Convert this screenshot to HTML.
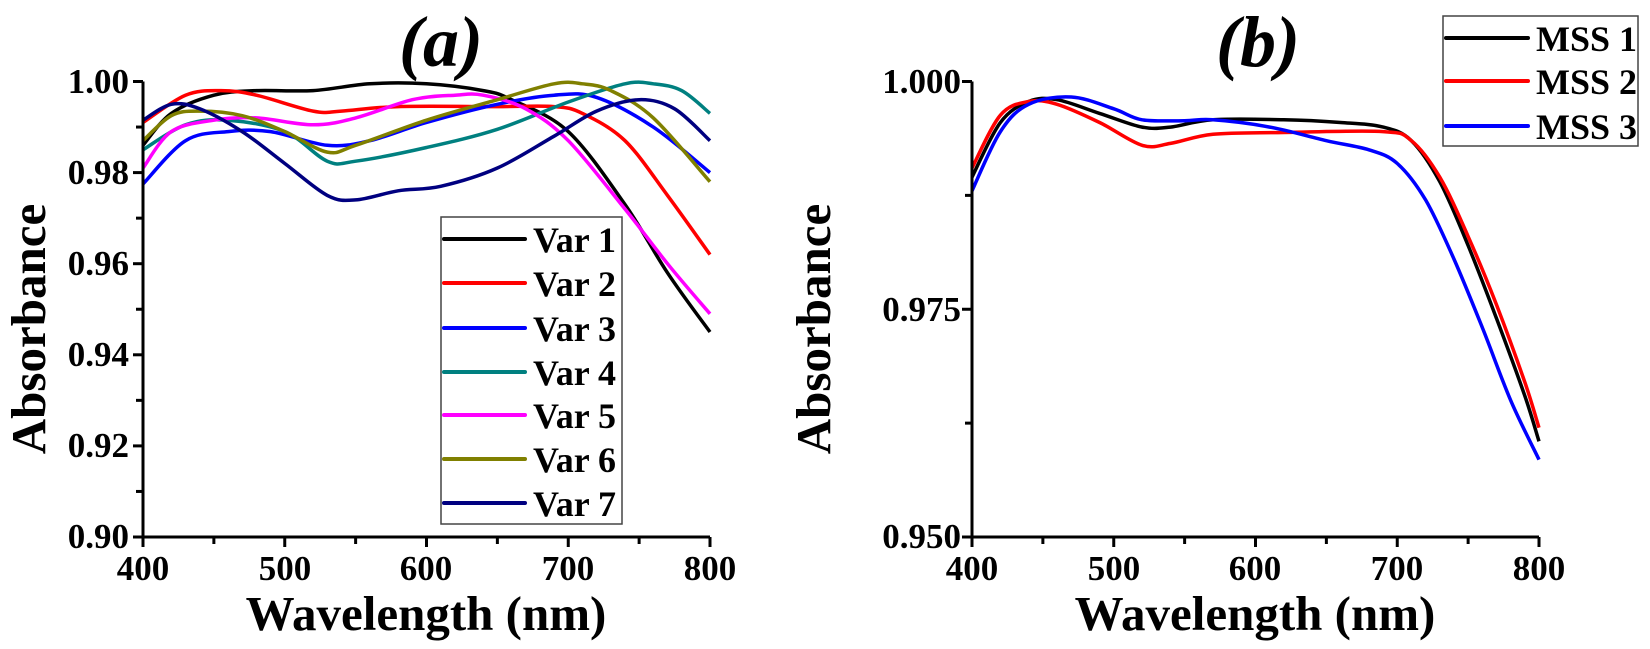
<!DOCTYPE html>
<html><head><meta charset="utf-8"><style>
html,body{margin:0;padding:0;background:#fff;}
svg{display:block;}
text{font-family:"Liberation Serif",serif;font-weight:bold;fill:#000;}
</style></head><body>
<svg id="s" width="1650" height="649" xmlns="http://www.w3.org/2000/svg">
<g id="g"></g>
<g stroke="#000" stroke-width="3" fill="none">
<path d="M143,81.5 V537 H710"/>
</g>
<g font-size="35" text-anchor="end">
<text x="129" y="93">1.00</text>
<text x="129" y="184">0.98</text>
<text x="129" y="275">0.96</text>
<text x="129" y="366">0.94</text>
<text x="129" y="457">0.92</text>
<text x="129" y="548">0.90</text>
</g>
<g font-size="35" text-anchor="middle">
<text x="143" y="580">400</text>
<text x="285" y="580">500</text>
<text x="426" y="580">600</text>
<text x="568" y="580">700</text>
<text x="710" y="580">800</text>
</g>
<text x="426" y="630" font-size="49" text-anchor="middle">Wavelength (nm)</text>
<text transform="translate(45,329) rotate(-90)" font-size="49" text-anchor="middle">Absorbance</text>
<text x="441" y="66" font-size="72" font-style="italic" text-anchor="middle">(a)</text>
<rect x="441" y="217" width="181" height="307" fill="#fff" stroke="#444" stroke-width="1.5"/>
<g font-size="36">
<text x="533" y="252">Var 1</text>
<text x="533" y="296">Var 2</text>
<text x="533" y="341">Var 3</text>
<text x="533" y="385">Var 4</text>
<text x="533" y="428">Var 5</text>
<text x="533" y="472">Var 6</text>
<text x="533" y="516">Var 7</text>
</g>
<g stroke-width="4" stroke-linecap="round">
<line x1="444" x2="525" y1="239" y2="239" stroke="#000"/>
<line x1="444" x2="525" y1="283" y2="283" stroke="#ff0000"/>
<line x1="444" x2="525" y1="328" y2="328" stroke="#0000ff"/>
<line x1="444" x2="525" y1="372" y2="372" stroke="#008080"/>
<line x1="444" x2="525" y1="415" y2="415" stroke="#ff00ff"/>
<line x1="444" x2="525" y1="459" y2="459" stroke="#808000"/>
<line x1="444" x2="525" y1="503" y2="503" stroke="#000080"/>
</g>
<g stroke="#000" stroke-width="3" fill="none">
<path d="M972,81.5 V537 H1539"/>
</g>
<g font-size="35" text-anchor="end">
<text x="961" y="93">1.000</text>
<text x="961" y="321">0.975</text>
<text x="961" y="548">0.950</text>
</g>
<g font-size="35" text-anchor="middle">
<text x="972" y="580">400</text>
<text x="1114" y="580">500</text>
<text x="1255" y="580">600</text>
<text x="1397" y="580">700</text>
<text x="1539" y="580">800</text>
</g>
<text x="1255" y="630" font-size="49" text-anchor="middle">Wavelength (nm)</text>
<text transform="translate(830,329) rotate(-90)" font-size="49" text-anchor="middle">Absorbance</text>
<text x="1258" y="66" font-size="72" font-style="italic" text-anchor="middle">(b)</text>
<rect x="1443" y="16" width="195" height="130" fill="#fff" stroke="#444" stroke-width="1.5"/>
<g font-size="36">
<text x="1536" y="51">MSS 1</text>
<text x="1536" y="94">MSS 2</text>
<text x="1536" y="139">MSS 3</text>
</g>
<g stroke-width="4" stroke-linecap="round">
<line x1="1446" x2="1528" y1="38" y2="38" stroke="#000"/>
<line x1="1446" x2="1528" y1="81" y2="81" stroke="#ff0000"/>
<line x1="1446" x2="1528" y1="126" y2="126" stroke="#0000ff"/>
</g>
</svg>
<script>
var g=document.getElementById('g'),NS="http://www.w3.org/2000/svg";
function add(tag,at,parent){var e=document.createElementNS(NS,tag);for(var k in at)e.setAttribute(k,at[k]);(parent||g).appendChild(e);return e;}
function path(pts){var d="M"+pts[0][0]+","+pts[0][1];for(var i=0;i<pts.length-1;i++){var p0=pts[i-1]||pts[i],p1=pts[i],p2=pts[i+1],p3=pts[i+2]||p2;
var c1x=p1[0]+(p2[0]-p0[0])/6,c1y=p1[1]+(p2[1]-p0[1])/6,c2x=p2[0]-(p3[0]-p1[0])/6,c2y=p2[1]-(p3[1]-p1[1])/6;
d+=" C"+c1x.toFixed(1)+","+c1y.toFixed(1)+" "+c2x.toFixed(1)+","+c2y.toFixed(1)+" "+p2[0].toFixed(1)+","+p2[1].toFixed(1);}return d;}
var t=add('g',{stroke:'#000','stroke-width':3});
[[143,81.5],[972,81.5]].forEach(function(o,k){
 var x0=o[0];
 for(var i=0;i<=8;i++){var x=x0+i*70.875;add('line',{x1:x,x2:x,y1:537,y2:i%2?544:547},t);}
 var n=k?4:10;for(var j=0;j<=n;j++){var y=81.5+j*455.5/n;add('line',{x1:x0,x2:x0-(j%2?7:10),y1:y,y2:y},t);}
});
function A(data,col){var pts=data.map(function(p){return [143+(p[0]-400)*1.4175,81.5+(1-p[1])*4555];});add('path',{d:path(pts),fill:'none',stroke:col,'stroke-width':3.5},g);}
function B(data,col){var pts=data.map(function(p){return [972+(p[0]-400)*1.4175,81.5+(1-p[1])*9110];});add('path',{d:path(pts),fill:'none',stroke:col,'stroke-width':3.5},g);}
A([[400,.986],[420,.993],[450,.997],[480,.998],[520,.998],[560,.9995],[600,.9995],[640,.998],[660,.996],[700,.989],[740,.973],[770,.958],[800,.945]],'#000');
A([[400,.991],[430,.997],[455,.998],[480,.997],[520,.9935],[540,.9935],[580,.9945],[650,.9945],[690,.9945],[710,.993],[740,.987],[770,.975],[800,.962]],'#ff0000');
A([[400,.9775],[430,.987],[460,.989],[490,.989],[530,.986],[560,.987],[600,.991],[650,.995],[690,.997],[720,.9965],[760,.990],[800,.980]],'#0000ff');
A([[400,.985],[430,.9905],[460,.9915],[500,.989],[530,.9825],[550,.9825],[600,.9855],[650,.9895],[700,.9955],[740,.9995],[760,.9995],[780,.998],[800,.993]],'#008080');
A([[400,.981],[420,.989],[450,.9915],[480,.992],[520,.9905],[550,.992],[590,.996],[620,.997],[640,.997],[670,.994],[700,.987],[740,.972],[770,.960],[800,.949]],'#ff00ff');
A([[400,.987],[420,.9925],[440,.9935],[470,.9925],[500,.989],[530,.9845],[550,.986],[600,.9915],[650,.996],[690,.9995],[710,.9995],[730,.998],[760,.992],[800,.978]],'#808000');
A([[400,.9915],[420,.995],[440,.994],[470,.989],[500,.982],[530,.975],[550,.974],[580,.976],[610,.977],[650,.981],[690,.988],[720,.9935],[750,.996],[775,.994],[800,.987]],'#000080');
B([[400,.9895],[420,.9955],[440,.9978],[460,.998],[490,.9965],[520,.995],[540,.995],[570,.9958],[620,.9958],[660,.9955],[690,.995],[710,.9935],[730,.989],[750,.982],[770,.974],[790,.9655],[800,.9605]],'#000');
B([[400,.9905],[420,.9963],[440,.9978],[460,.9975],[490,.9955],[520,.993],[540,.9932],[570,.9942],[620,.9944],[690,.9945],[710,.9935],[730,.9895],[750,.983],[770,.9755],[790,.967],[800,.962]],'#ff0000');
B([[400,.988],[420,.9945],[440,.9975],[470,.9983],[500,.997],[520,.9958],[550,.9957],[570,.9958],[610,.995],[650,.9935],[680,.9925],[700,.991],[720,.987],[740,.9805],[760,.973],[780,.965],[800,.9585]],'#0000ff');
</script>
</body></html>
